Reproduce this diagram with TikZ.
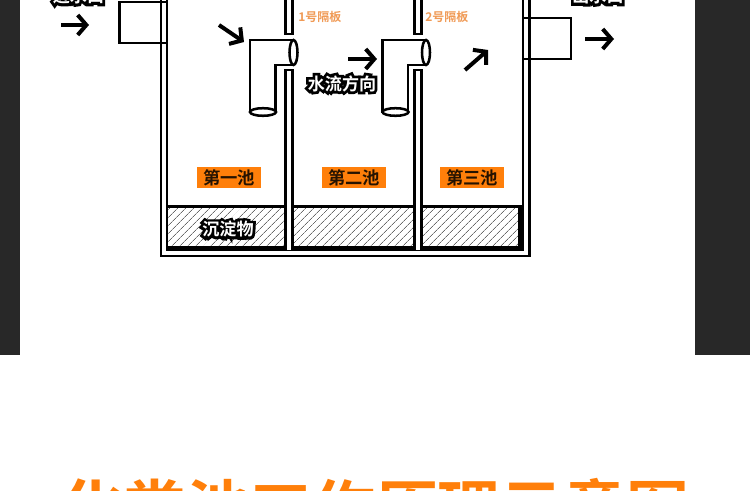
\documentclass[tikz,border=0pt]{standalone}
\usepackage{fontspec}
\usetikzlibrary{arrows.meta,patterns.meta}
\setmainfont{Noto Sans CJK SC}
\newfontfamily\cjkhalo[FakeBold=32]{Noto Sans CJK SC Bold}
\newfontfamily\cjkheavy{Noto Sans CJK SC Bold}
\definecolor{panelgrey}{HTML}{282828}
\definecolor{tagorange}{HTML}{FF7F0A}
\definecolor{notecolor}{HTML}{F09A55}
\definecolor{hatchgrey}{HTML}{6A6A6A}
\newcommand{\halotext}[1]{\rlap{\cjkhalo\color{black}#1}{\cjkheavy\color{white}#1}}
\tikzset{
  wall/.style={draw=black,line width=1.9pt},
  pipe/.style={draw=black,line width=1.9pt,fill=white},
  sediment/.style={pattern={Lines[angle=45,distance=4pt,line width=0.6pt]},pattern color=hatchgrey},
  flowarrow/.style={draw=black,line width=3pt,-{Straight Barb[length=6.5pt,width=15pt,line width=3pt]}},
  poollabel/.style={fill=tagorange,text=black!85!orange,inner sep=0pt,minimum width=48pt,minimum height=15.4pt,font=\cjkheavy\fontsize{13pt}{13pt}\selectfont},
  notelabel/.style={text=notecolor,inner sep=0pt,anchor=west,font=\cjkheavy\fontsize{9pt}{9pt}\selectfont},
  halolabel/.style={inner sep=0pt,font=\fontsize{12.8pt}{13pt}\selectfont}
}
\begin{document}
\begin{tikzpicture}[x=0.75pt,y=-0.75pt]
\useasboundingbox (0,0) rectangle (750,491);
\clip (0,0) rectangle (750,491);
\fill[white] (0,0) rectangle (750,491);
\fill[panelgrey] (0,0) rectangle (19.5,355);
\fill[panelgrey] (695,0) rectangle (750,355);
% sediment
\fill[sediment] (168,207) rectangle (285,247);
\fill[sediment] (292,207) rectangle (414,247);
\fill[sediment] (422,207) rectangle (520,247);
% inlet and outlet boxes
\draw[wall] (167,2) -- (119.5,2) -- (119.5,43) -- (167,43);
\draw[wall] (523,18) -- (571,18) -- (571,59) -- (523,59);
% tank walls
\draw[wall] (161,-5) -- (161,256) -- (529.5,256) -- (529.5,-5);
\draw[wall] (167,-5) -- (167,247.5);
\draw[wall] (523,-5) -- (523,247.5);
\draw[black,line width=3.2pt] (166,248.5) -- (524,248.5);
\draw[black,line width=3.6pt] (520.5,207) -- (520.5,248);
\draw[wall] (167,206.5) -- (523,206.5);
% partitions
\draw[wall] (285.5,-5) -- (285.5,34) -- (292.5,34) -- (292.5,-5);
\draw[wall,fill=white] (285.5,250) -- (285.5,70) -- (292.5,70) -- (292.5,250);
\draw[wall] (414.5,-5) -- (414.5,34) -- (421.5,34) -- (421.5,-5);
\draw[wall,fill=white] (414.5,250) -- (414.5,70) -- (421.5,70) -- (421.5,250);
% elbow pipes
\draw[pipe] (293.5,40) -- (250,40) -- (250,112) -- (275.5,112) -- (275.5,65) -- (293.5,65);
\draw[pipe] (293.5,52.5) ellipse [x radius=4,y radius=12.5];
\draw[pipe] (263,112) ellipse [x radius=13,y radius=3.8];
\draw[pipe] (426,40) -- (382.5,40) -- (382.5,112) -- (408,112) -- (408,65) -- (426,65);
\draw[pipe] (426,52.5) ellipse [x radius=4,y radius=12.5];
\draw[pipe] (395.5,112) ellipse [x radius=13,y radius=3.8];
% flow arrows
\coordinate (a1s) at (61,25); \coordinate (a1e) at (89,25);
\coordinate (a2s) at (219,25); \coordinate (a2e) at (244,42);
\coordinate (a3s) at (348,59); \coordinate (a3e) at (377,59);
\coordinate (a4s) at (465,70); \coordinate (a4e) at (488,50);
\coordinate (a5s) at (585,39); \coordinate (a5e) at (614,39);
\draw[flowarrow] (a1s) -- (a1e);
\draw[flowarrow] (a2s) -- (a2e);
\draw[flowarrow] (a3s) -- (a3e);
\draw[flowarrow] (a4s) -- (a4e);
\draw[flowarrow] (a5s) -- (a5e);
% labels
\node[halolabel] (inlet) at (78.5,-4) {\halotext{进水口}};
\node[halolabel] (outlet) at (598,-4) {\halotext{出水口}};
\node[halolabel] (flow) at (342,83.5) {\halotext{水流方向}};
\node[halolabel] (sludge) at (228,229) {\halotext{沉淀物}};
\node[notelabel] (p1) at (298,17) {1号隔板};
\node[notelabel] (p2) at (425,17) {2号隔板};
\node[poollabel] (c1) at (229,177.5) {第一池};
\node[poollabel] (c2) at (354,177.5) {第二池};
\node[poollabel] (c3) at (472,177.5) {第三池};
\node[inner sep=0pt,text=tagorange,font=\cjkheavy\fontsize{47.2pt}{48pt}\selectfont] (title) at (375,508.5) {化粪池工作原理示意图};
\end{tikzpicture}
\end{document}
